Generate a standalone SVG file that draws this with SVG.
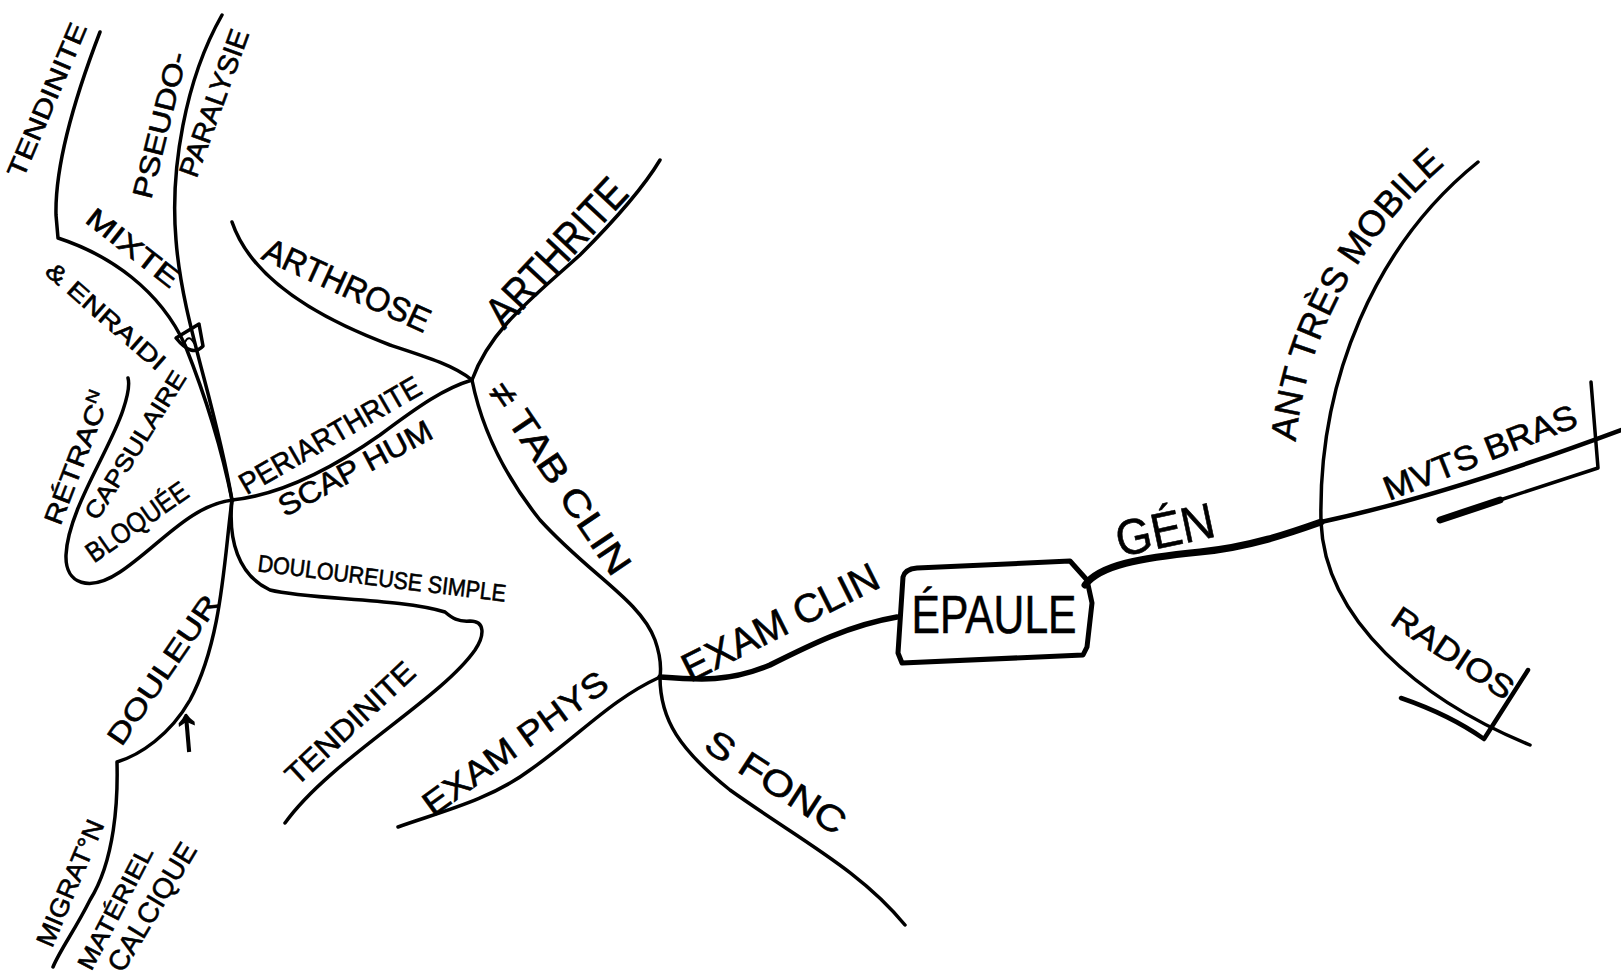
<svg xmlns="http://www.w3.org/2000/svg" width="1621" height="976" viewBox="0 0 1621 976">
<style>
.ln{fill:none;stroke:#000;stroke-width:3.5;stroke-linecap:round;stroke-linejoin:round}
.thick{stroke-width:7}
.t{font-family:"Liberation Sans",Arial,sans-serif;fill:#000;text-anchor:middle;dominant-baseline:central;stroke:#000;stroke-width:0.6}
</style>
<rect width="1621" height="976" fill="#fff"/>
<g id="connectors">
<path class="ln" d="M100,32 C70,110 55,170 56,215 L58,238 C110,255 160,290 185,345 C205,395 222,450 232,500"/>
<path class="ln" d="M222,15 C185,80 170,170 176,240 C182,320 215,400 232,500"/>
<path class="ln" d="M176,338 L199,324 L203,346 Q192,358 176,338 Z"/>
<path class="ln" style="stroke-width:2" d="M185,342 Q189,334 194,343"/>
<path class="ln" d="M233,500 C190,505 160,545 120,572 C90,592 65,585 66,555 C68,510 110,450 123,410 C128,395 130,385 128,378"/>
<path class="ln" d="M232,222 C250,275 310,315 390,345 C430,358 455,366 472,380"/>
<path class="ln" d="M232,500 C280,495 330,470 380,435 C420,405 445,388 472,380"/>
<path class="ln" d="M472,380 C490,330 530,300 580,255 C620,215 645,185 660,160"/>
<path class="ln" d="M472,380 C480,420 500,470 540,520 C590,575 640,600 655,640 C662,660 661,670 660,677"/>
<path class="ln" d="M660,677 C660,720 680,750 730,790 C800,840 860,870 905,925"/>
<path class="ln" d="M398,827 C440,812 490,800 530,770 C580,735 610,700 660,677"/>
<path class="ln" d="M232,500 C228,540 238,575 270,590 C310,600 400,598 445,612 C452,618 458,622 470,621 C485,621 485,635 475,650 C440,700 330,760 285,823"/>
<path class="ln" d="M232,500 C224,560 222,640 190,700 C170,735 140,755 117,762 C118,800 115,860 90,900 C75,930 60,950 53,967"/>
<path class="ln thick" style="stroke-width:5.5" d="M660,677 C700,680 730,682 770,665 C810,645 850,625 897,617"/>
<path class="ln thick" d="M1085,585 C1100,565 1140,558 1200,552 C1250,547 1290,533 1321,522"/>
<path class="ln" style="stroke-width:4.5" d="M1321,522 C1400,505 1500,475 1621,430"/>
<path class="ln" d="M1478,162 C1375,245 1318,380 1321,522 C1325,620 1420,700 1530,745"/>
<path class="ln" d="M1591,382 L1598,468 L1500,500"/>
<path class="ln thick" d="M1500,500 L1440,520"/>
<path class="ln" style="stroke-width:4.5" d="M1401,698 C1430,708 1460,722 1484,739 L1528,670"/>
</g>
<g id="epaule">
<path class="ln" style="stroke-width:5" d="M903,577 Q905,569 917,568 L1070,561 L1087,580 L1092,603 L1087,647 L1083,655 L902,663 L898,653 Z"/>
<text class="t" x="994" y="614" font-size="54" textLength="165" lengthAdjust="spacingAndGlyphs">ÉPAULE</text>
</g>
<g id="n-gen"><text class="t" font-size="50" textLength="100" lengthAdjust="spacingAndGlyphs" transform="translate(1165,530) rotate(-12)">GÉN</text></g>
<g id="n-exam-clin"><text class="t" font-size="40" textLength="215" lengthAdjust="spacingAndGlyphs" transform="translate(780,622) rotate(-26.6)">EXAM CLIN</text></g>
<g id="n-exam-phys"><text class="t" font-size="34" textLength="220" lengthAdjust="spacingAndGlyphs" transform="translate(515,743) rotate(-36)">EXAM PHYS</text></g>
<g id="n-s-fonc"><text class="t" font-size="36" textLength="160" lengthAdjust="spacingAndGlyphs" transform="translate(776,782) rotate(33)">S FONC</text></g>
<g id="n-tab-clin"><text class="t" font-size="36" textLength="225" lengthAdjust="spacingAndGlyphs" transform="translate(560,478) rotate(56)">≠ TAB CLIN</text></g>
<g id="n-arthrite"><text class="t" font-size="44" textLength="185" lengthAdjust="spacingAndGlyphs" transform="translate(556,252) rotate(-47)">ARTHRITE</text></g>
<g id="n-arthrose"><text class="t" font-size="34" textLength="180" lengthAdjust="spacingAndGlyphs" transform="translate(347,285) rotate(24.5)">ARTHROSE</text></g>
<g id="n-periarthrite">
<text class="t" font-size="30" textLength="205" lengthAdjust="spacingAndGlyphs" transform="translate(330,435) rotate(-30)">PERIARTHRITE</text>
<text class="t" font-size="30" textLength="170" lengthAdjust="spacingAndGlyphs" transform="translate(355,468) rotate(-28)">SCAP HUM</text>
</g>
<g id="n-douloureuse"><text class="t" font-size="24" textLength="250" lengthAdjust="spacingAndGlyphs" transform="translate(382,578) rotate(7)">DOULOUREUSE SIMPLE</text></g>
<g id="n-tendinite-2"><text class="t" font-size="30" textLength="165" lengthAdjust="spacingAndGlyphs" transform="translate(350,723) rotate(-43)">TENDINITE</text></g>
<g id="n-tendinite-1"><text class="t" font-size="26" textLength="165" lengthAdjust="spacingAndGlyphs" transform="translate(47,100) rotate(-67)">TENDINITE</text></g>
<g id="n-pseudo">
<text class="t" font-size="28" textLength="150" lengthAdjust="spacingAndGlyphs" transform="translate(160,125) rotate(-76)">PSEUDO-</text>
<text class="t" font-size="28" textLength="155" lengthAdjust="spacingAndGlyphs" transform="translate(214,103) rotate(-70)">PARALYSIE</text>
</g>
<g id="n-mixte">
<text class="t" font-size="28" textLength="110" lengthAdjust="spacingAndGlyphs" transform="translate(133,248) rotate(38)">MIXTE</text>
<text class="t" font-size="24" textLength="150" lengthAdjust="spacingAndGlyphs" transform="translate(106,316) rotate(41)">&amp; ENRAIDI</text>
</g>
<g id="n-bloquee">
<text class="t" font-size="26" textLength="140" lengthAdjust="spacingAndGlyphs" transform="translate(77,458) rotate(-69)">RÉTRAC<tspan font-size="16" dy="-8">N</tspan></text>
<text class="t" font-size="24" textLength="170" lengthAdjust="spacingAndGlyphs" transform="translate(135,445) rotate(-58)">CAPSULAIRE</text>
<text class="t" font-size="28" textLength="118" lengthAdjust="spacingAndGlyphs" transform="translate(137,522) rotate(-35)">BLOQUÉE</text>
</g>
<g id="n-douleur">
<text class="t" font-size="28" textLength="175" lengthAdjust="spacingAndGlyphs" transform="translate(163,670) rotate(-55.6)">DOULEUR</text>
<text class="t" font-size="62" style="stroke-width:1.5" transform="translate(187,728) rotate(-5)">↑</text>
</g>
<g id="n-migration">
<text class="t" font-size="26" textLength="135" lengthAdjust="spacingAndGlyphs" transform="translate(70,883) rotate(-67)">MIGRAT°N</text>
<text class="t" font-size="24" textLength="135" lengthAdjust="spacingAndGlyphs" transform="translate(115,908) rotate(-62.5)">MATÉRIEL</text>
<text class="t" font-size="28" textLength="145" lengthAdjust="spacingAndGlyphs" transform="translate(152,907) rotate(-58.8)">CALCIQUE</text>
</g>
<g id="n-ant-mobile">
<defs><path id="p-ant" d="M1294,476 C1294,360 1350,235 1472,143"/></defs>
<text font-family="Liberation Sans, Arial, sans-serif" font-size="36" text-anchor="middle" fill="#000" stroke="#000" stroke-width="0.6"><textPath href="#p-ant" startOffset="50%">ANT TRÈS MOBILE</textPath></text>
</g>
<g id="n-mvts"><text class="t" font-size="34" textLength="205" lengthAdjust="spacingAndGlyphs" transform="translate(1480,452) rotate(-21.6)">MVTS BRAS</text></g>
<g id="n-radios"><text class="t" font-size="32" textLength="140" lengthAdjust="spacingAndGlyphs" transform="translate(1453,653) rotate(33.7)">RADIOS</text></g>
</svg>
